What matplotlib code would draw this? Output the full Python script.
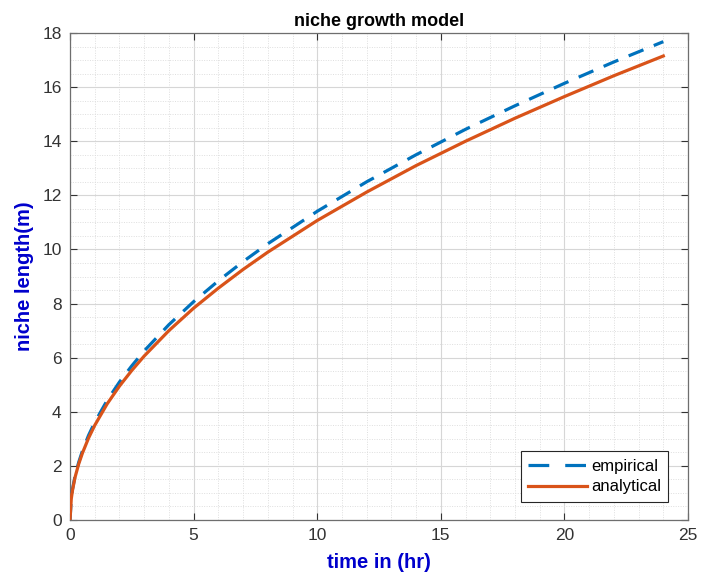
import matplotlib
matplotlib.use("Agg")
import matplotlib.pyplot as plt
from matplotlib.ticker import MultipleLocator

# values
time_hr = [0, 0.05, 0.1, 0.2, 0.35, 0.5, 0.75, 1, 1.5, 2, 2.5, 3, 4, 5, 6, 7, 8,
           10, 12, 14, 16, 18, 20, 22, 24]
empirical = [0, 0.81, 1.14, 1.61, 2.13, 2.55, 3.13, 3.61, 4.42, 5.1, 5.7, 6.25,
             7.22, 8.07, 8.84, 9.55, 10.21, 11.41, 12.5, 13.5, 14.44, 15.31,
             16.14, 16.93, 17.68]
analytical = [0, 0.78, 1.1, 1.57, 2.07, 2.47, 3.03, 3.5, 4.29, 4.95, 5.53, 6.06,
              7.0, 7.83, 8.57, 9.26, 9.9, 11.07, 12.12, 13.1, 14.0, 14.85,
              15.65, 16.42, 17.15]

plt.rcParams["font.family"] = ["Liberation Sans", "DejaVu Sans"]

fig = plt.figure(figsize=(7.01, 5.86), dpi=100)
ax = fig.add_axes([0.0999, 0.1126, 0.8816, 0.8311])

ax.plot(time_hr, empirical, color="#0072BD", lw=2.3, linestyle=(0, (5, 3.5)),
        label="empirical", zorder=3)
ax.plot(time_hr, analytical, color="#D95319", lw=2.3, label="analytical", zorder=4)

ax.set_xlim(0, 25)
ax.set_ylim(0, 18)
ax.xaxis.set_major_locator(MultipleLocator(5))
ax.xaxis.set_minor_locator(MultipleLocator(1))
ax.yaxis.set_major_locator(MultipleLocator(2))
ax.yaxis.set_minor_locator(MultipleLocator(0.5))

ax.grid(which="major", color="#d6d6d6", lw=0.8)
ax.grid(which="minor", color="#dedede", lw=0.7, linestyle=(0, (1, 1.5)))
ax.set_axisbelow(True)

ax.tick_params(which="major", direction="in", length=5, width=0.8,
               top=True, right=True, labelsize=12.5, colors="#333333", pad=6)
ax.tick_params(which="minor", length=0)
for sp in ax.spines.values():
    sp.set_color("#6e6e6e")
    sp.set_linewidth(0.9)

ax.set_title("niche growth model", fontsize=13, fontweight="bold", pad=5)
ax.set_xlabel("time in (hr)", fontsize=14.5, fontweight="bold", color="#0000CC",
              labelpad=7)
ax.set_ylabel("niche length(m)", fontsize=14.5, fontweight="bold", color="#0000CC",
              labelpad=6)

leg = ax.legend(loc="lower right", bbox_to_anchor=(0.968, 0.037), fontsize=12,
                handlelength=3.5, handletextpad=0.25, borderpad=0.45,
                labelspacing=0.35, borderaxespad=0, fancybox=False,
                framealpha=1, edgecolor="#262626")
leg.get_frame().set_linewidth(0.8)
# two long dashes in the legend sample, like the reference
leg.get_lines()[0].set_linestyle((0, (6.5, 5)))

fig.savefig("out.png", dpi=100)
